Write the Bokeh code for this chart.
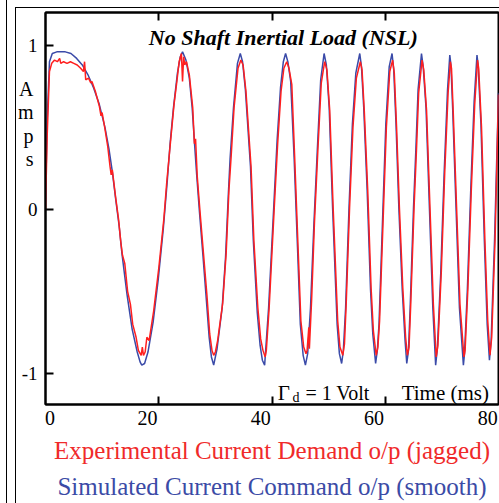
from bokeh.plotting import figure
from bokeh.models import Range1d, LinearAxis, FixedTicker, Label, InlineStyleSheet, Title
from bokeh.embed import file_html
from bokeh.resources import INLINE

# ---------------- data ----------------
# Simulated current command (blue, smooth): time in ms, current in A
sim_t = [0.0, 0.3, 0.7, 1.2, 2.0, 3.5, 4.5, 5.5, 6.5, 7.5, 8.5, 9.5, 10.5, 11.2, 11.8,
         12.4, 13.0, 13.5, 14.4, 15.3, 16.2, 16.7, 17.0, 17.5, 18.1,
         19.0, 19.9, 20.8, 21.5, 22.0, 22.6, 23.3, 23.8, 24.2,
         24.8, 25.4, 25.9, 26.3, 26.7, 27.2, 27.8, 28.4, 28.9, 29.3, 29.7,
         30.3, 31.2, 31.8, 32.3, 32.6, 33.2, 33.9, 34.4,
         34.8, 35.3, 36.2, 36.7, 37.4, 37.9, 38.3, 38.7,
         39.4, 40.3, 40.9, 41.5, 42.0, 42.4,
         42.8, 43.3, 43.9, 44.5, 45.0, 45.5, 45.9,
         46.3, 46.8, 47.4, 48.0, 48.6, 49.2,
         49.6, 50.1, 50.7, 51.5, 51.9, 52.3,
         52.6, 53.0, 53.6, 54.2, 54.8, 55.5,
         55.8, 56.2, 56.8, 57.4, 57.8, 58.3,
         58.6, 58.9, 59.5, 60.1, 60.7, 61.2,
         61.5, 61.9, 62.4, 63.0, 63.5, 63.8,
         64.1, 64.4, 65.0, 65.4, 65.8, 66.4,
         66.7, 67.2, 67.8, 68.4, 68.9,
         69.2, 69.8, 70.4, 71.0, 71.4,
         71.6, 71.9, 72.5, 73.1, 73.8,
         74.0, 74.5, 75.1, 75.7, 76.2,
         76.4, 76.9, 77.5, 78.0, 78.4,
         78.7, 79.3, 80.0]
sim_i = [0.05, 0.55, 0.90, 0.95, 0.96, 0.96, 0.95, 0.92, 0.88, 0.82, 0.74, 0.64, 0.50, 0.37, 0.23,
         0.06, -0.10, -0.27, -0.52, -0.73, -0.87, -0.93, -0.95, -0.94, -0.87,
         -0.69, -0.43, -0.12, 0.17, 0.40, 0.62, 0.83, 0.93, 0.96,
         0.91, 0.80, 0.62, 0.41, 0.21, -0.02, -0.28, -0.55, -0.78, -0.90, -0.95,
         -0.85, -0.60, -0.29, 0.10, 0.31, 0.62, 0.89, 0.95,
         0.90, 0.73, 0.26, -0.19, -0.63, -0.83, -0.92, -0.95,
         -0.60, 0.01, 0.42, 0.74, 0.90, 0.95,
         0.90, 0.78, 0.32, -0.23, -0.70, -0.89, -0.95,
         -0.88, -0.60, -0.09, 0.36, 0.79, 0.95,
         0.88, 0.62, 0.01, -0.70, -0.88, -0.94,
         -0.86, -0.60, 0.01, 0.52, 0.83, 0.95,
         0.87, 0.62, 0.12, -0.49, -0.76, -0.94,
         -0.86, -0.70, -0.09, 0.52, 0.87, 0.95,
         0.85, 0.52, 0.01, -0.49, -0.80, -0.94,
         -0.86, -0.60, 0.02, 0.36, 0.73, 0.95,
         0.87, 0.62, 0.01, -0.60, -0.95,
         -0.85, -0.39, 0.22, 0.73, 0.94,
         0.88, 0.62, 0.01, -0.60, -0.95,
         -0.88, -0.49, 0.12, 0.66, 0.94,
         0.88, 0.52, -0.19, -0.70, -0.92,
         -0.80, -0.19, 0.71]

# Experimental current demand (red, jagged)
exp_t = [0.0, 0.3, 0.7, 1.1, 1.6, 2.1, 2.5, 2.7, 3.2, 3.8, 4.4, 5.0, 5.6, 6.2, 6.7, 6.9, 7.1,
         7.6, 8.0, 8.2, 8.8, 9.5, 9.8, 10.0, 10.5, 11.0, 11.4, 11.6, 11.8, 12.4, 12.9, 13.3,
         13.6, 14.0, 14.5, 15.0, 15.4, 16.0, 16.4, 16.9, 17.1, 17.3, 17.6, 17.9, 18.3,
         19.1, 20.0, 20.9, 21.4, 22.1, 22.7, 23.2, 23.6, 24.0, 24.2, 24.4, 24.6, 24.9,
         25.4, 26.0, 26.3, 26.5, 26.8, 27.3, 27.9, 28.5, 29.0, 29.4, 29.7, 30.0, 30.4,
         31.3, 31.9, 32.4, 32.8, 33.3, 34.0, 34.5, 34.9, 35.4, 36.3, 36.8, 37.5, 38.0,
         38.4, 38.8, 39.0, 39.5, 40.4, 41.0, 41.6, 42.1, 42.6, 43.0, 43.5, 44.0, 44.6,
         45.1, 45.6, 46.0, 46.2, 46.5, 46.6, 47.0, 47.5, 48.1, 48.7, 49.3, 49.7, 50.2,
         50.8, 51.6, 52.0, 52.5, 52.8, 53.1, 53.7, 54.3, 54.9, 55.6, 55.9, 56.3, 56.9,
         57.5, 57.9, 58.4, 58.7, 59.0, 59.6, 60.2, 60.8, 61.3, 61.6, 62.0, 62.5, 63.1,
         63.6, 63.9, 64.2, 64.5, 65.1, 65.5, 65.9, 66.5, 66.8, 67.3, 67.9, 68.5, 69.0,
         69.3, 69.9, 70.5, 71.1, 71.5, 71.7, 72.0, 72.6, 73.2, 73.9, 74.1, 74.6, 75.2,
         75.8, 76.3, 76.5, 77.0, 77.6, 78.1, 78.5, 78.8, 79.4, 80.0]
exp_i = [0.0, 0.45, 0.84, 0.89, 0.91, 0.90, 0.92, 0.89, 0.90, 0.89, 0.90, 0.89, 0.88, 0.86, 0.84, 0.90, 0.79,
         0.80, 0.77, 0.78, 0.72, 0.63, 0.57, 0.59, 0.49, 0.38, 0.26, 0.21, 0.24, 0.07, -0.06, -0.20,
         -0.28, -0.33, -0.50, -0.58, -0.70, -0.78, -0.86, -0.89, -0.84, -0.89, -0.87, -0.78, -0.80,
         -0.62, -0.36, -0.06, 0.16, 0.42, 0.64, 0.78, 0.90, 0.95, 0.78, 0.93, 0.88, 0.90,
         0.82, 0.62, 0.40, 0.43, 0.20, -0.02, -0.27, -0.52, -0.76, -0.86, -0.89, -0.87, -0.80,
         -0.57, -0.27, 0.12, 0.33, 0.62, 0.86, 0.91, 0.88, 0.72, 0.26, -0.19, -0.60, -0.79,
         -0.86, -0.90, -0.86, -0.60, 0.01, 0.40, 0.72, 0.86, 0.90, 0.86, 0.76, 0.32, -0.23,
         -0.68, -0.84, -0.88, -0.86, -0.72, -0.85, -0.55, -0.08, 0.36, 0.77, 0.90, 0.85, 0.60,
         0.01, -0.68, -0.84, -0.89, -0.82, -0.58, 0.01, 0.50, 0.80, 0.90, 0.85, 0.60, 0.12,
         -0.48, -0.74, -0.89, -0.84, -0.68, -0.09, 0.50, 0.84, 0.91, 0.83, 0.50, 0.01, -0.48,
         -0.78, -0.89, -0.84, -0.58, 0.02, 0.35, 0.71, 0.91, 0.85, 0.60, 0.01, -0.58, -0.90,
         -0.83, -0.38, 0.22, 0.71, 0.90, 0.86, 0.60, 0.01, -0.58, -0.90, -0.86, -0.48, 0.12,
         0.64, 0.91, 0.86, 0.50, -0.19, -0.68, -0.89, -0.78, -0.18, 0.70]

x_ticks = [20, 40, 60]
x_tick_labels = ["0", "20", "40", "60", "80"]
x_label_pos = [0.8, 18.0, 38.0, 58.0, 78.1]
y_ticks = [-1, 0, 1]
y_tick_labels = ["-1", "0", "1"]
unit_pos = [0.52]
unit_label = ["A\nm\np\ns"]

SERIF = "Liberation Serif"
RED = "#ff1f1f"
BLUE = "#3a4aa8"

p = figure(width=499, height=503, output_backend="svg", toolbar_location=None,
           x_range=Range1d(0, 80), y_range=Range1d(-1.19, 1.20),
           x_axis_location=None, y_axis_location=None,
           min_border_left=45, min_border_right=1, min_border_top=12, min_border_bottom=99)
p.grid.visible = False
p.border_fill_color = None
p.background_fill_color = "white"
p.outline_line_color = "black"
p.outline_line_width = 2
# thin frame lines of the surrounding panel (page decoration)
p.stylesheets = [InlineStyleSheet(css=(
    ":host { background: linear-gradient(#000,#000) 6px 0px / 1px 100% no-repeat, "
    "linear-gradient(#000,#000) 15px 7px / 1px 100% no-repeat, "
    "linear-gradient(#000,#000) 15px 7px / 100% 1px no-repeat, white; }"))]

# axes
yax = LinearAxis(ticker=FixedTicker(ticks=y_ticks),
                 major_label_overrides={t: s for t, s in zip(y_ticks, y_tick_labels)},
                 major_tick_in=8, major_tick_out=0, minor_tick_line_color=None,
                 axis_line_width=2, major_tick_line_width=2, major_label_standoff=8,
                 major_label_text_font=SERIF, major_label_text_font_size="19px",
                 major_label_text_color="black")
p.add_layout(yax, "left")

# "A m p s" stacked unit label on the upper half of the y axis
amps = LinearAxis(ticker=FixedTicker(ticks=unit_pos),
                  major_label_overrides={t: s for t, s in zip(unit_pos, unit_label)},
                  axis_line_color=None, major_tick_in=0, major_tick_out=0,
                  major_tick_line_color=None, minor_tick_line_color=None,
                  major_label_standoff=-15, major_label_text_font=SERIF,
                  major_label_text_font_size="20px", major_label_text_color="black",
                  major_label_text_line_height=1.05)
p.add_layout(amps, "left")

xax = LinearAxis(ticker=FixedTicker(ticks=x_ticks), major_tick_in=8, major_tick_out=0,
                 minor_tick_line_color=None, axis_line_width=2, major_tick_line_width=2,
                 major_label_overrides={t: "" for t in x_ticks}, major_label_standoff=0)
p.add_layout(xax, "below")

xlab = LinearAxis(ticker=FixedTicker(ticks=x_label_pos),
                  major_label_overrides={t: s for t, s in zip(x_label_pos, x_tick_labels)},
                  major_tick_in=0, major_tick_out=0, minor_tick_line_color=None,
                  axis_line_color=None, major_label_standoff=6,
                  major_label_text_font=SERIF, major_label_text_font_size="20px",
                  major_label_text_color="black")
p.add_layout(xlab, "below")

top = LinearAxis(ticker=FixedTicker(ticks=x_ticks), major_tick_in=8, major_tick_out=0,
                 minor_tick_line_color=None, axis_line_width=2, major_tick_line_width=2,
                 major_label_overrides={t: "" for t in x_ticks}, major_label_standoff=0)
p.add_layout(top, "above")

# legend lines below the plot
p.add_layout(Title(text="Experimental Current Demand o/p (jagged)", align="center",
                   text_font=SERIF, text_font_size="25px", text_font_style="normal",
                   text_color="#f02a2a", standoff=15), "below")
p.add_layout(Title(text="Simulated Current Command o/p (smooth)", align="center",
                   text_font=SERIF, text_font_size="25px", text_font_style="normal",
                   text_color="#3b4ba6", standoff=-2), "below")

# curves
p.line(sim_t, sim_i, line_color=BLUE, line_width=1.5)
p.line(exp_t, exp_i, line_color=RED, line_width=1.5)

# texts inside the frame (data units)
def lab(x, y, text, size, color="black", style="normal", align="left"):
    p.add_layout(Label(x=x, y=y, text=text, text_font=SERIF, text_font_size=size,
                       text_color=color, text_font_style=style, text_align=align,
                       text_baseline="alphabetic"))

lab(42.0, 1.047, "No Shaft Inertial Load (NSL)", "22px", style="bold italic", align="center")
lab(41.0, -1.122, "\u0393", "21px")
lab(43.6, -1.146, "d", "14px")
lab(45.9, -1.122, "= 1 Volt", "20px")
lab(62.9, -1.122, "Time (ms)", "21px")

open("out.html", "w").write(file_html(p, INLINE))
